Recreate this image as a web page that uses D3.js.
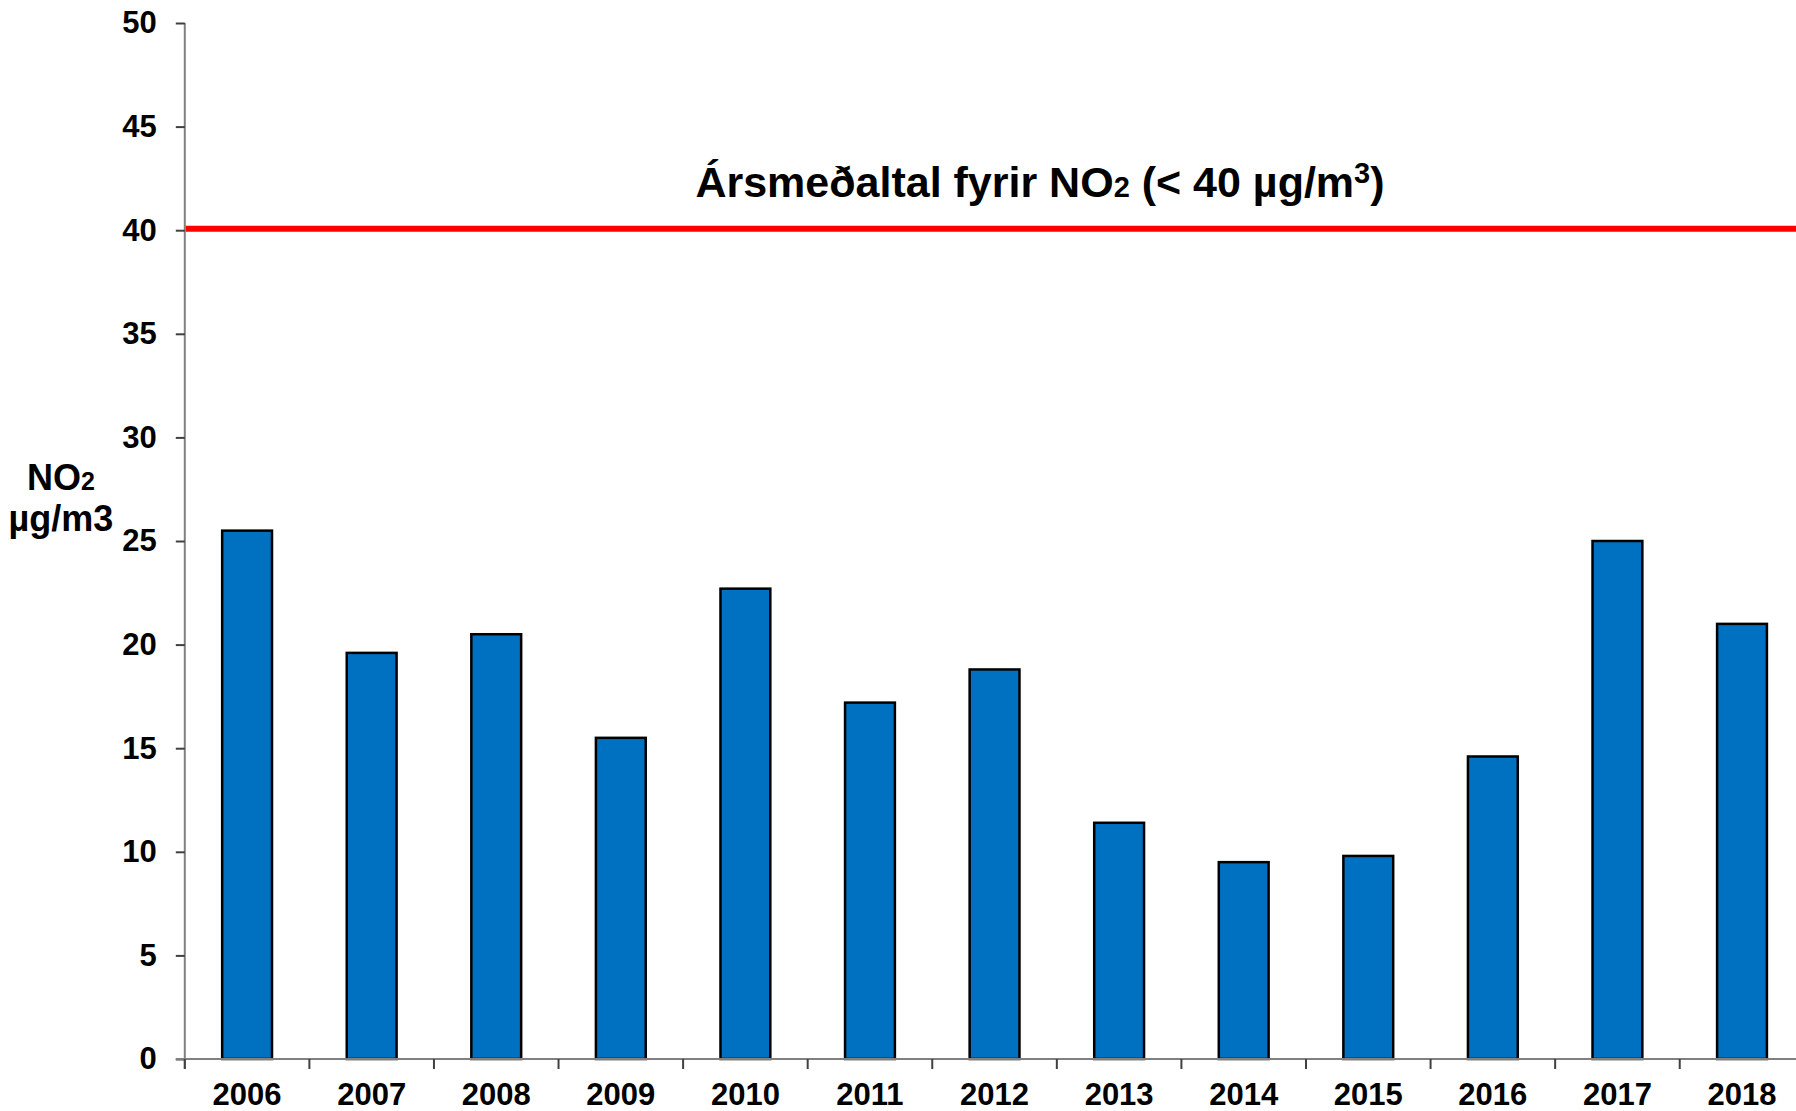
<!DOCTYPE html>
<html>
<head>
<meta charset="utf-8">
<script src="https://cdn.jsdelivr.net/npm/d3@7"></script>
<style>
  body { margin: 0; background: #fff; }
  text { font-family: "Liberation Sans", Arial, sans-serif; font-weight: bold; fill: #000; }
</style>
</head>
<body>
<div id="chart"></div>
<script>
// data
var years = ["2006", "2007", "2008", "2009", "2010", "2011", "2012", "2013", "2014", "2015", "2016", "2017", "2018"];
var no2 = [25.5, 19.6, 20.5, 15.5, 22.7, 17.2, 18.8, 11.4, 9.5, 9.8, 14.6, 25.0, 21.0];
var yTicks = [0, 5, 10, 15, 20, 25, 30, 35, 40, 45, 50];
var limitValue = 40;

var svgWidth = 1796;
var svgHeight = 1111;

var svg = d3.select("#chart")
  .append("svg")
  .attr("width", svgWidth)
  .attr("height", svgHeight);

// plot area (right side runs past the picture edge, like the original)
var x0 = 184.8, x1 = 1804.3;
var yTop = 23, yBottom = 1059;

var x = d3.scaleBand()
  .domain(years)
  .range([x0, x1])
  .paddingInner(0.6)
  .paddingOuter(0.3);

var xCat = d3.scaleBand()
  .domain(years)
  .range([x0, x1])
  .padding(0);

var y = d3.scaleLinear()
  .domain([0, 50])
  .range([yBottom, yTop]);

// bars
svg.append("g")
  .selectAll("rect")
  .data(no2)
  .enter()
  .append("rect")
  .attr("x", (d, i) => x(years[i]))
  .attr("y", d => y(d))
  .attr("width", x.bandwidth())
  .attr("height", d => y(0) - y(d))
  .attr("fill", "#0070C0")
  .attr("stroke", "#000")
  .attr("stroke-width", 2.5);

// y axis
var yAxis = svg.append("g")
  .attr("transform", `translate(${x0},0)`)
  .call(d3.axisLeft(y).tickValues(yTicks).tickSize(9).tickPadding(19));
yAxis.select(".domain").attr("stroke", "#808080").attr("stroke-width", 2)
  .attr("d", `M0,${yTop}V${yBottom + 10}`);
yAxis.selectAll(".tick line").attr("stroke", "#404040").attr("stroke-width", 2);
yAxis.selectAll("text").style("font-size", "31px");

// x axis
var xAxis = svg.append("g")
  .attr("transform", `translate(0,${yBottom})`)
  .call(d3.axisBottom(xCat).tickSize(0).tickPadding(24));
xAxis.select(".domain").attr("stroke", "#808080").attr("stroke-width", 2)
  .attr("d", `M${x0 - 9},0H${svgWidth}`);
xAxis.selectAll("text").style("font-size", "31px");

// tick marks between the categories
xAxis.append("g")
  .selectAll("line")
  .data(years)
  .enter()
  .append("line")
  .attr("x1", d => xCat(d))
  .attr("x2", d => xCat(d))
  .attr("y1", 0)
  .attr("y2", 10)
  .attr("stroke", "#404040")
  .attr("stroke-width", 2);

// limit line
svg.append("line")
  .attr("x1", x0 + 1)
  .attr("x2", svgWidth)
  .attr("y1", y(limitValue) - 1.5)
  .attr("y2", y(limitValue) - 1.5)
  .attr("stroke", "#FF0000")
  .attr("stroke-width", 6);

// limit label
var title = svg.append("text")
  .attr("x", 1040)
  .attr("y", 197)
  .attr("text-anchor", "middle")
  .style("font-size", "43px");
title.append("tspan").text("Ársmeðaltal fyrir NO");
title.append("tspan").style("font-size", "29px").text("2");
title.append("tspan").text(" (< 40 µg/m");
title.append("tspan").style("font-size", "29px").attr("dy", -14).text("3");
title.append("tspan").attr("dy", 14).text(")");

// y axis label
var yLab = svg.append("text")
  .attr("x", 61)
  .attr("y", 490)
  .attr("text-anchor", "middle")
  .style("font-size", "36px");
yLab.append("tspan").text("NO");
yLab.append("tspan").style("font-size", "25px").text("2");
svg.append("text")
  .attr("x", 61)
  .attr("y", 531)
  .attr("text-anchor", "middle")
  .style("font-size", "36px")
  .text("µg/m3");
</script>
</body>
</html>
